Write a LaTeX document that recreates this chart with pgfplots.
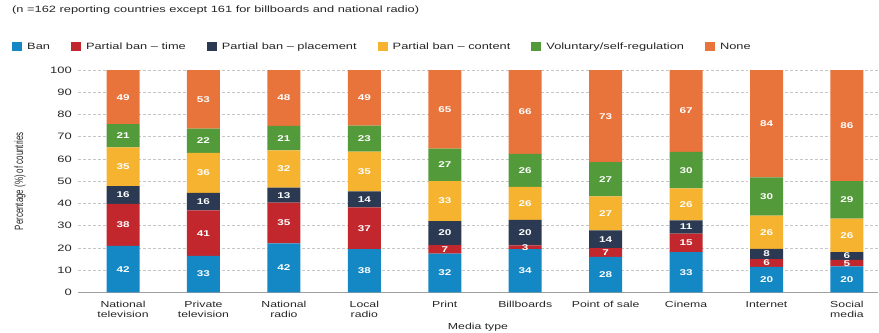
\documentclass[border=0pt]{standalone}
\usepackage{fontspec}
\setmainfont{Liberation Sans}
\newfontfamily\widefont[FakeStretch=1.4]{Liberation Sans}
\newfontfamily\narrowfont[FakeStretch=0.66]{Liberation Sans}
\usepackage{pgfplots}
\usepackage{pgfplotstable}
\pgfplotsset{compat=1.18}
\definecolor{cBan}{HTML}{1487C5}
\definecolor{cTime}{HTML}{C1272D}
\definecolor{cPlace}{HTML}{2B3A52}
\definecolor{cContent}{HTML}{F6B330}
\definecolor{cVol}{HTML}{529A3A}
\definecolor{cNone}{HTML}{E8743B}

\pgfplotstableread{
x ban time place content vol none total
0 42 38 16 35 21 49 201
1 33 41 16 36 22 53 201
2 42 35 13 32 21 48 191
3 38 37 14 35 23 49 196
4 32 7 20 33 27 65 184
5 34 3 20 26 26 66 175
6 28 7 14 27 27 73 176
7 33 15 11 26 30 67 182
8 20 6 8 26 30 84 174
9 20 5 6 26 29 86 172
}\data

\pgfplotsset{
  seg/.style={fill=#1, draw=none},
}

\begin{document}
\begin{tikzpicture}
\useasboundingbox (-78bp,-40.7bp) rectangle (801bp,292.3bp);
\begin{axis}[
  at={(0,0)}, anchor=south west,
  scale only axis, width=800bp, height=222.3bp,
  ybar stacked, bar width=33bp,
  xmin=-0.56, xmax=9.386, ymin=0, ymax=100.02,
  enlargelimits=false,
  xtick={0,...,9},
  xticklabels={{National\\television},{Private\\television},{National\\radio},{Local\\radio},{Print},{Billboards},{Point of sale},{Cinema},{Internet},{Social\\media}},
  ytick={0,10,...,100},
  major tick length=0pt,
  /pgf/number format/assume math mode=true,
  axis x line*=bottom, axis y line*=left,
  y axis line style={draw=none},
  x axis line style={draw=gray!75, line width=0.6pt},
  ymajorgrids, major grid style={densely dashed, gray!45, line width=0.5pt},
  xticklabel style={align=center, anchor=north, inner sep=0pt, yshift=-8.5bp,
    font=\widefont\fontsize{8.8}{10}\selectfont, text=black!85},
  yticklabel style={anchor=east, inner sep=0pt, xshift=-6bp,
    font=\widefont\fontsize{9.3}{10}\selectfont, text=black!85},
  xlabel={Media type},
  xlabel style={at={(axis description cs:0.5,0)}, anchor=center, yshift=-35bp,
    font=\widefont\fontsize{8.8}{10}\selectfont, text=black!85},
  ylabel={Percentage (\%) of countries},
  ylabel style={at={(axis description cs:-0.0725,0.5)}, anchor=center, rotate=0,
    font=\narrowfont\fontsize{12}{13}\selectfont, text=black!85},
  title={(n =162 reporting countries except 161 for billboards and national radio)},
  title style={at={(axis description cs:-0.0825,1.243)}, anchor=west, inner sep=0pt,
    font=\widefont\fontsize{9.2}{10}\selectfont, text=black!85},
  legend columns=6,
  legend style={at={(axis description cs:-0.0825,1.1035)}, anchor=west,
    draw=none, fill=none, inner sep=0pt,
    nodes={inner sep=0pt, font=\widefont\fontsize{9.2}{10}\selectfont, text=black!85},
    /tikz/every odd column/.append style={column sep=5bp},
    /tikz/every even column/.append style={column sep=21bp}},
  legend image code/.code={\path[#1,draw=none] (0bp,-4.5bp) rectangle (10bp,4.5bp);},
  point meta=explicit,
  nodes near coords,
  every node near coord/.append style={anchor=center,
    font=\widefont\bfseries\fontsize{8.4}{9}\selectfont, text=white, inner sep=0pt},
]
\addplot[seg=cBan] table[x=x, y expr=\thisrow{ban}/\thisrow{total}*100, meta=ban] {\data};
\addplot[seg=cTime] table[x=x, y expr=\thisrow{time}/\thisrow{total}*100, meta=time] {\data};
\addplot[seg=cPlace] table[x=x, y expr=\thisrow{place}/\thisrow{total}*100, meta=place] {\data};
\addplot[seg=cContent] table[x=x, y expr=\thisrow{content}/\thisrow{total}*100, meta=content] {\data};
\addplot[seg=cVol] table[x=x, y expr=\thisrow{vol}/\thisrow{total}*100, meta=vol] {\data};
\addplot[seg=cNone] table[x=x, y expr=\thisrow{none}/\thisrow{total}*100, meta=none] {\data};
\legend{Ban, Partial ban \textendash{} time, Partial ban \textendash{} placement, Partial ban \textendash{} content, Voluntary/self-regulation, None}
\end{axis}
\end{tikzpicture}
\end{document}
